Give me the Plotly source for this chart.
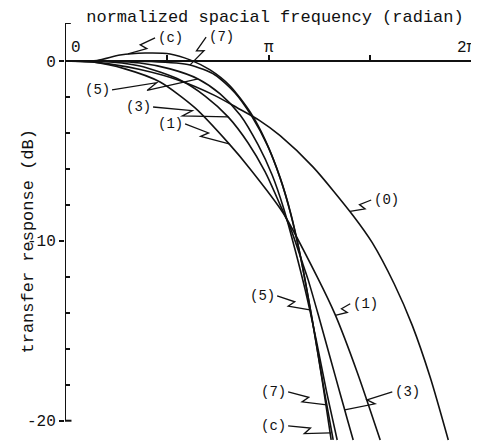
import math
import plotly.graph_objects as go

PI = math.pi

# ---- data (x in radian, y in dB) ----
x0 = [0, 0.494, 1.159, 1.777, 2.3, 2.657, 3.0, 3.321, 3.831, 4.449, 4.743, 5.083, 5.361, 5.639, 5.917]
y0 = [0, -0.08, -0.48, -1.10, -1.90, -2.60, -3.30, -4.15, -5.90, -8.60, -10.10, -12.40, -14.70, -17.60, -21.07]

x1 = [0, 0.433, 0.927, 1.468, 2.008, 2.534, 2.858, 3.368, 3.893, 4.171, 4.511, 4.866]
y1 = [0, -0.06, -0.44, -1.17, -2.61, -4.61, -6.00, -8.45, -12.00, -14.10, -17.30, -21.07]

x3 = [0, 0.494, 1.159, 1.777, 2.163, 2.518, 2.827, 3.090, 3.321, 3.491, 3.661, 3.754, 3.909, 4.094, 4.248, 4.357, 4.449]
y3 = [0, 0, -0.28, -1.06, -1.95, -3.11, -4.56, -6.17, -8.00, -9.39, -11.17, -12.17, -14.10, -16.50, -18.50, -19.90, -21.07]

x5 = [0, 0.494, 1.159, 1.622, 2.055, 2.395, 2.704, 2.982, 3.198, 3.383, 3.553, 3.708, 3.878, 4.032, 4.202]
y5 = [0, 0, -0.11, -0.44, -1.00, -1.83, -3.00, -4.67, -6.34, -8.28, -10.51, -12.73, -15.51, -18.29, -21.07]

x7 = [0, 0.494, 1.313, 1.931, 2.317, 2.626, 2.889, 3.121, 3.321, 3.491, 3.646, 3.831, 3.986, 4.140]
y7 = [0, 0, -0.03, -0.22, -0.78, -1.78, -3.11, -4.67, -6.50, -8.56, -11.06, -14.68, -18.01, -21.07]

xc = [0, 0.494, 0.850, 1.236, 1.622, 1.931, 2.240, 2.549, 2.858, 3.090, 3.321, 3.476, 3.630, 3.816, 3.970, 4.109]
yc = [0, 0.03, 0.33, 0.44, 0.39, 0.06, -0.50, -1.39, -2.84, -4.39, -6.50, -8.39, -10.78, -14.40, -17.73, -21.07]

series = [("(0)", x0, y0), ("(1)", x1, y1), ("(3)", x3, y3),
          ("(5)", x5, y5), ("(7)", x7, y7), ("(c)", xc, yc)]

# curve labels: text, label position, leader tip
label_text = ["(c)", "(7)", "(5)", "(3)", "(1)", "(0)", "(5)", "(1)", "(7)", "(3)", "(c)"]
label_x = [1.622, 2.41, 0.494, 1.128, 1.622, 4.959, 3.043, 4.635, 3.213, 5.284, 3.213]
label_y = [1.28, 1.33, -1.61, -2.56, -3.50, -7.73, -13.06, -13.50, -18.40, -18.40, -20.29]
tip_x = [0.973, 1.931, 2.055, 2.518, 2.534, 4.40, 3.78, 4.171, 4.042, 4.318, 4.10]
tip_y = [0.40, -0.22, -1.00, -3.11, -4.61, -8.36, -13.84, -14.15, -19.12, -19.40, -20.68]

x_tick_vals = [PI / 2, PI, 3 * PI / 2, 2 * PI]
x_label_text = ["0", "π", "2π"]
x_label_pos = [0.17, PI, 6.21]
y_tick_vals = [-20, -10, 0]
y_tick_text = ["-20", "-10", "0"]
y_minor_vals = [-18, -16, -14, -12, -8, -6, -4, -2]

FONT = "Liberation Mono"
INK = "#111111"

# page body has an 8px margin: figure is shifted, so size/margins compensate
W, H = 471, 437
ML, MR, MT, MB = 57, 7, 15, 0
XR = [0, 2 * PI]
YR = [-21.35, 2.11]
PXR = (W - ML - MR) / (XR[1] - XR[0])   # pixels per radian
PXD = (H - MT - MB) / (YR[1] - YR[0])   # pixels per dB

fig = go.Figure()
for name, xs, ys in series:
    fig.add_trace(go.Scatter(x=xs, y=ys, mode="lines", name=name,
                             line=dict(color=INK, width=1.6, shape="spline", smoothing=0.7),
                             showlegend=False, hoverinfo="skip"))


def leader_path(lx, ly, tx, ty):
    half = 15.0
    sx = lx * PXR + (half if tx > lx else -half)
    sy = -ly * PXD
    ex, ey = tx * PXR, -ty * PXD
    dx, dy = ex - sx, ey - sy
    L = math.hypot(dx, dy)
    ux, uy = dx / L, dy / L
    nx, ny = -uy, ux
    if ux < 0:
        nx, ny = -nx, -ny
    p1 = (sx + 0.52 * dx - nx * 1.5, sy + 0.52 * dy - ny * 1.5)
    p2 = (sx + 0.40 * dx + nx * 5.0, sy + 0.40 * dy + ny * 5.0)
    pts = [(sx, sy), p1, p2, (ex, ey)]
    return "M " + " L ".join(f"{px / PXR:.4f},{-py / PXD:.4f}" for px, py in pts)


for t, lx, ly, tx, ty in zip(label_text, label_x, label_y, tip_x, tip_y):
    fig.add_annotation(x=lx, y=ly, xref="x", yref="y", text=t, showarrow=False,
                       font=dict(family=FONT, size=14, color=INK))
    fig.add_shape(type="path", xref="x", yref="y", path=leader_path(lx, ly, tx, ty),
                  line=dict(color=INK, width=1.3))

for t, px in zip(x_label_text, x_label_pos):
    fig.add_annotation(x=px, y=0.72, xref="x", yref="y", text=t, showarrow=False,
                       font=dict(family=FONT, size=16, color=INK))

fig.add_annotation(x=(16 - 8 - ML) / (W - ML - MR), y=1 - (242 - 8 - MT) / (H - MT - MB),
                   xref="paper", yref="paper",
                   text="transfer response (dB)", textangle=-90, showarrow=False,
                   font=dict(family=FONT, size=17, color=INK))

# left axis line with bracket ends
fig.add_shape(type="line", xref="x", yref="y", x0=0, x1=0, y0=-20, y1=YR[1],
              line=dict(color=INK, width=2))
fig.add_shape(type="line", xref="x", yref="y", x0=0, x1=0.09, y0=YR[1], y1=YR[1],
              line=dict(color=INK, width=2))
fig.add_shape(type="line", xref="x", yref="y", x0=0, x1=0.1, y0=-20, y1=-20,
              line=dict(color=INK, width=2))

fig.update_layout(
    template="none",
    width=W, height=H, autosize=False,
    margin=dict(l=ML, r=MR, t=MT, b=MB, pad=0, autoexpand=False),
    paper_bgcolor="white", plot_bgcolor="white",
    title=dict(text="normalized spacial frequency (radian)", x=(275 - 8) / W, xref="container",
               xanchor="center", y=1 - (16 - 8) / H, yref="container", yanchor="middle",
               font=dict(family=FONT, size=17, color=INK)),
    xaxis=dict(range=XR, anchor="free", position=YR[1] * PXD / (H - MT - MB) * 0 + (-YR[0]) / (YR[1] - YR[0]),
               side="top", automargin=False,
               showline=True, linecolor=INK, linewidth=2, ticks="outside", ticklen=5,
               tickwidth=1.5, tickcolor=INK, tickmode="array", tickvals=x_tick_vals,
               showticklabels=False, showgrid=False, zeroline=False),
    yaxis=dict(range=YR, showline=False, zeroline=False, showgrid=False,
               automargin=False,
               tickmode="array", tickvals=y_tick_vals, ticktext=y_tick_text,
               ticks="outside", ticklen=5, tickwidth=1.5, tickcolor=INK,
               tickfont=dict(family=FONT, size=16, color=INK),
               minor=dict(tickmode="array", tickvals=y_minor_vals, ticks="inside",
                          ticklen=5, tickwidth=1.5, tickcolor=INK)),
)

fig.write_html("out.html")
